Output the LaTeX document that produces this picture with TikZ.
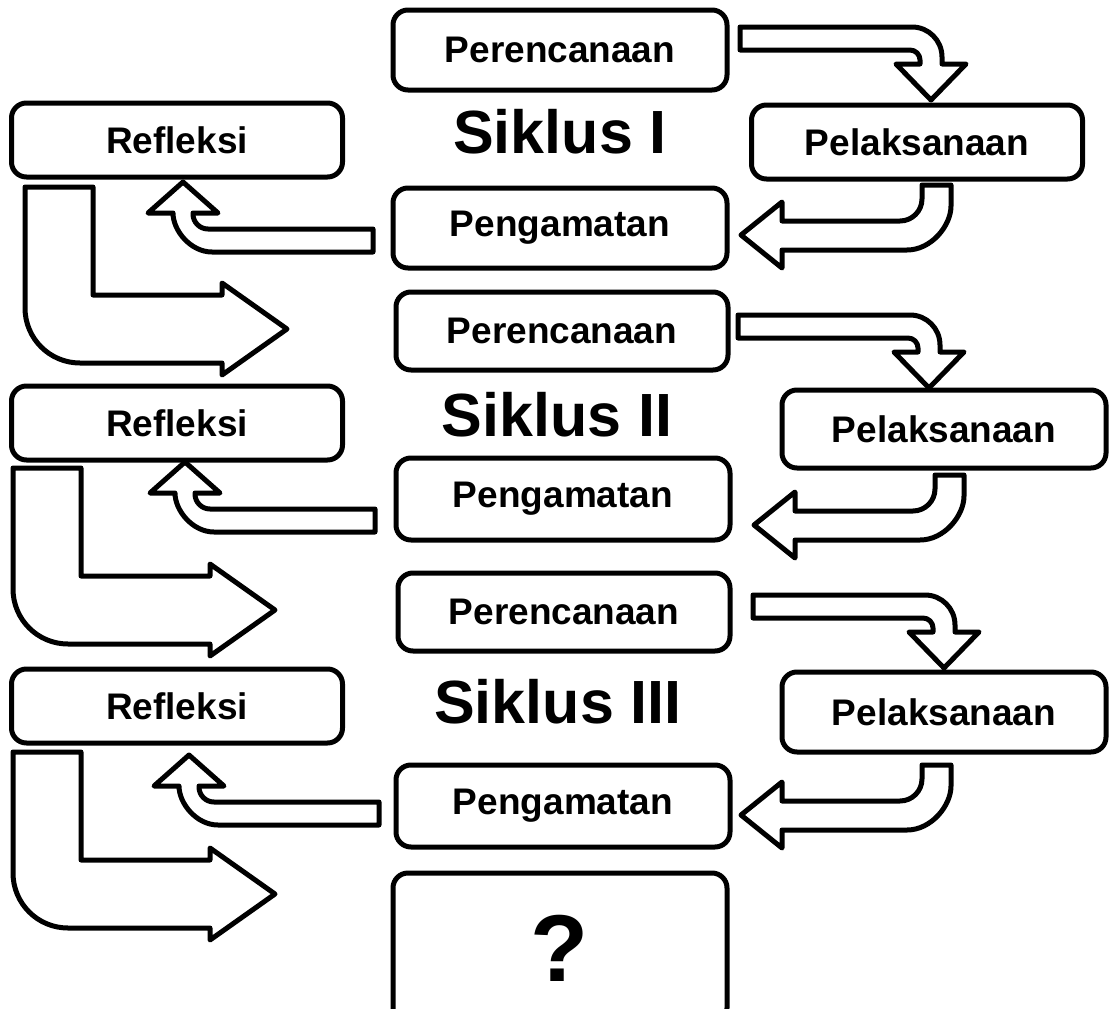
\documentclass[tikz,border=0pt]{standalone}
\usepackage{fontspec}
\setmainfont{Liberation Sans}
\usepackage{tikz}

\begin{document}
\begin{tikzpicture}[x=1pt, y=-1pt,
    box/.style={draw, line width=5pt, rounded corners=15pt, align=center,
        font=\fontsize{37}{42}\selectfont\bfseries, minimum width=#1},
    box/.default=334pt,
    cyc/.style={font=\fontsize{61}{66}\selectfont\bfseries},
    blk/.style={draw, line width=5pt, line join=round, fill=white},
    rturn/.pic={\draw[blk] (0,0) -- (172,0) .. controls (188.6,0) and (202,13.4) .. (202,30)
        -- (202,37) -- (226,37) -- (191,73) -- (156,37) -- (180,37) -- (180,33)
        .. controls (180,27.5) and (175.5,23) .. (170,23) -- (0,23) -- cycle;},
    lturn/.pic={\draw[blk] (0,0) -- (0,14) .. controls (0,26.1) and (-9.9,36) .. (-22,36)
        -- (-140,36) -- (-140,17) -- (-181,50) -- (-140,83) -- (-140,65) -- (-15,65)
        .. controls (9.3,65) and (29,40.7) .. (29,21) -- (29,0) -- cycle;},
    uturn/.pic={\draw[blk] (0,0) -- (35,31) -- (10,31) -- (10,32)
        .. controls (10,40.3) and (16.7,47) .. (25,47) -- (190,47) -- (190,70) -- (29,70)
        .. controls (7.5,70) and (-10,48.5) .. (-10,31) -- (-35,31) -- cycle;},
    lbend/.pic={\draw[blk] (0,0) -- (68,0) -- (68,108) -- (197,108) -- (197,96)
        -- (262,142) -- (197,188) -- (197,176) -- (55,176)
        .. controls (24.6,176) and (0,151.4) .. (0,121) -- cycle;}
]
\clip (0,0) rectangle (1111,1009);

% Siklus I
\node[box, minimum height=80pt] (plan1) at (560,50) {Perencanaan};
\node[box=331pt, minimum height=74pt] (refl1) at (177,140) {Refleksi};
\node[cyc] (cyc1) at (560,132) {Siklus I};
\node[box=331pt, minimum height=74pt] (act1) at (917,142) {Pelaksanaan};
\node[box, minimum height=80pt] (obs1) at (560,228) {Pengamatan};

\pic at (740,27) {rturn};
\pic at (922,185) {lturn};
\pic at (183,182) {uturn};
\pic at (25,187) {lbend};

% Siklus II
\node[box=332pt, minimum height=78pt] (plan2) at (562,331) {Perencanaan};
\node[box=331pt, minimum height=74pt] (refl2) at (177,423) {Refleksi};
\node[cyc] (cyc2) at (557,415) {Siklus II};
\node[box=324pt, minimum height=78pt] (act2) at (944,429) {Pelaksanaan};
\node[box, minimum height=82pt] (obs2) at (563,499) {Pengamatan};

\pic at (738,315) {rturn};
\pic at (935,475) {lturn};
\pic at (185,462) {uturn};
\pic at (13,468) {lbend};

% Siklus III
\node[box=332pt, minimum height=78pt] (plan3) at (564,612) {Perencanaan};
\node[box=331pt, minimum height=74pt] (refl3) at (177,706) {Refleksi};
\node[cyc] (cyc3) at (558,702) {Siklus III};
\node[box=324pt, minimum height=80pt] (act3) at (944,712) {Pelaksanaan};
\node[box, minimum height=82pt] (obs3) at (563,806) {Pengamatan};

\pic at (753,595) {rturn};
\pic at (922,765) {lturn};
\pic at (189,755) {uturn};
\pic at (13,752) {lbend};

% berikutnya
\node[box, minimum height=150pt, font=\fontsize{95}{100}\selectfont\bfseries] (next) at (560,948) {?};
\end{tikzpicture}
\end{document}
